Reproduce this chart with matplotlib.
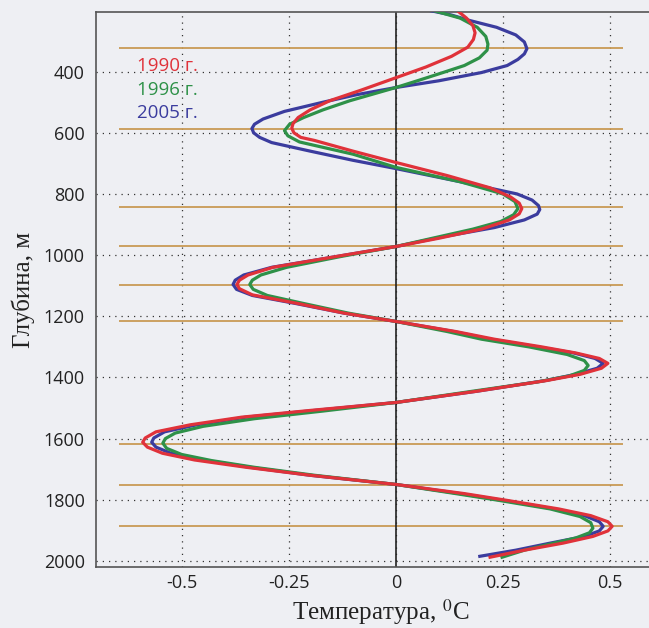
import matplotlib.pyplot as plt

# глубины и температурные аномалии
depth_1990 = [200, 225, 250, 273, 295, 320, 350, 385, 420, 460, 495, 525, 550, 570, 585, 600,
              615, 625, 660, 697, 740, 780, 810, 830, 848, 865, 885, 915, 945, 972, 1000, 1040,
              1065, 1082, 1096, 1110, 1130, 1158, 1190, 1217, 1250, 1275, 1300, 1320, 1338,
              1354, 1370, 1390, 1410, 1445, 1482, 1508, 1530, 1555, 1578, 1598, 1612, 1628,
              1648, 1670, 1694, 1720, 1750, 1780, 1802, 1830, 1852, 1872, 1887, 1902, 1920,
              1942, 1965, 1988]
temp_1990 = [0.143, 0.165, 0.18, 0.185, 0.181, 0.168, 0.13, 0.07, 0.0, -0.08, -0.154, -0.2,
             -0.228, -0.24, -0.243, -0.238, -0.222, -0.19, -0.1, 0.0, 0.12, 0.22, 0.268, 0.288,
             0.294, 0.288, 0.265, 0.2, 0.1, 0.0, -0.12, -0.287, -0.345, -0.365, -0.371, -0.365,
             -0.335, -0.23, -0.12, 0.0, 0.14, 0.23, 0.34, 0.42, 0.475, 0.495, 0.48, 0.43, 0.353,
             0.19, 0.0, -0.2, -0.36, -0.48, -0.56, -0.585, -0.591, -0.58, -0.545, -0.47, -0.349,
             -0.2, 0.0, 0.16, 0.259, 0.38, 0.455, 0.495, 0.505, 0.495, 0.46, 0.39, 0.3, 0.22]

depth_1996 = [200, 225, 255, 285, 310, 330, 355, 380, 403, 430, 452, 495, 525, 550, 572, 593,
              610, 630, 670, 713, 760, 800, 825, 848, 868, 890, 915, 945, 972, 1005, 1040, 1065,
              1082, 1096, 1112, 1132, 1158, 1190, 1217, 1250, 1275, 1300, 1325, 1345, 1361,
              1377, 1395, 1415, 1445, 1482, 1510, 1535, 1560, 1582, 1600, 1615, 1632, 1652,
              1672, 1694, 1720, 1750, 1780, 1802, 1830, 1855, 1875, 1893, 1908, 1925, 1945,
              1965, 1988]
temp_1996 = [0.087, 0.15, 0.19, 0.21, 0.215, 0.213, 0.195, 0.16, 0.11, 0.05, 0.0, -0.107,
             -0.17, -0.215, -0.248, -0.26, -0.252, -0.225, -0.1, 0.0, 0.15, 0.25, 0.278, 0.285,
             0.275, 0.245, 0.18, 0.085, 0.0, -0.13, -0.255, -0.315, -0.335, -0.341, -0.333,
             -0.3, -0.216, -0.11, 0.0, 0.12, 0.2, 0.31, 0.4, 0.44, 0.449, 0.44, 0.405, 0.33,
             0.18, 0.0, -0.17, -0.33, -0.45, -0.515, -0.538, -0.544, -0.535, -0.5, -0.43, -0.33,
             -0.19, 0.0, 0.14, 0.24, 0.36, 0.43, 0.455, 0.46, 0.452, 0.42, 0.36, 0.3, 0.248]

depth_2005 = [200, 215, 233, 255, 280, 303, 325, 342, 360, 380, 403, 430, 452, 475, 500, 530,
              555, 572, 586, 600, 615, 632, 660, 690, 717, 760, 800, 820, 838, 851, 866, 885,
              910, 940, 972, 1005, 1040, 1065, 1082, 1096, 1112, 1132, 1158, 1190, 1217, 1250,
              1275, 1300, 1320, 1338, 1354, 1370, 1390, 1410, 1445, 1482, 1508, 1530, 1555,
              1578, 1598, 1612, 1628, 1648, 1670, 1694, 1720, 1750, 1780, 1802, 1830, 1852,
              1872, 1887, 1902, 1920, 1942, 1965, 1985]
temp_2005 = [0.079, 0.13, 0.173, 0.235, 0.28, 0.3, 0.306, 0.3, 0.285, 0.26, 0.2, 0.1, 0.0,
             -0.09, -0.17, -0.26, -0.31, -0.33, -0.336, -0.332, -0.318, -0.29, -0.2, -0.1, 0.0,
             0.15, 0.283, 0.318, 0.333, 0.336, 0.33, 0.3, 0.23, 0.11, 0.0, -0.14, -0.29,
             -0.355, -0.375, -0.38, -0.372, -0.335, -0.235, -0.12, 0.0, 0.135, 0.22, 0.33,
             0.415, 0.465, 0.484, 0.47, 0.42, 0.35, 0.19, 0.0, -0.19, -0.35, -0.465, -0.54,
             -0.565, -0.57, -0.56, -0.525, -0.45, -0.34, -0.2, 0.0, 0.15, 0.25, 0.37, 0.44,
             0.475, 0.484, 0.475, 0.44, 0.36, 0.28, 0.196]

# горизонтальные линии (экстремумы и нули)
hlines = [322, 586, 844, 969, 1099, 1217, 1619, 1753, 1887]

labels = ['1990 г.', '1996 г.', '2005 г.']
colors = ['#e0323a', '#2e9148', '#3b3c9e']

xticks = [-0.5, -0.25, 0, 0.25, 0.5]
xticklabels = ['-0.5', '-0.25', '0', '0.25', '0.5']
yticks = [400, 600, 800, 1000, 1200, 1400, 1600, 1800, 2000]

bg = '#eeeff3'
plt.rcParams['mathtext.fontset'] = 'stix'

fig = plt.figure(figsize=(6.49, 6.28), dpi=100, facecolor=bg)
ax = fig.add_axes([96/649, 61/628, (649-96)/649, (567-12)/628], facecolor=bg)

ax.set_xlim(-0.7, 0.591)
ax.set_ylim(2020, 205)

ax.set_xticks(xticks)
ax.set_xticklabels(xticklabels)
ax.set_yticks(yticks)
ax.tick_params(length=0, labelsize=13)
ax.tick_params(axis='x', pad=5)
ax.tick_params(axis='y', pad=8)
for lab in ax.get_xticklabels() + ax.get_yticklabels():
    lab.set_fontfamily('Open Sans')
    lab.set_color('#222222')

ax.grid(True, color='#333333', linestyle=(0, (1, 4)), linewidth=0.9)
ax.set_axisbelow(True)

for sp in ['left', 'bottom', 'top']:
    ax.spines[sp].set_color('#555555')
    ax.spines[sp].set_linewidth(1.2)
ax.spines['right'].set_visible(False)

ax.hlines(hlines, -0.646, 0.53, color='#c99a55', linewidth=1.3, zorder=2)
ax.axvline(0, color='#222222', linewidth=1.2, zorder=2)

series = [(depth_2005, temp_2005, colors[2]),
          (depth_1996, temp_1996, colors[1]),
          (depth_1990, temp_1990, colors[0])]
for d, t, c in series:
    ax.plot(t, d, color=c, linewidth=2.3, zorder=3, solid_joinstyle='round')

label_depths = [380, 459, 534]
for lab, c, yd in zip(labels, colors, label_depths):
    ax.text(-0.604, yd, lab, color=c, fontsize=13.5, family='Open Sans',
            va='center', ha='left', zorder=4)

ax.set_ylabel('Глубина, м', family='Liberation Serif', fontsize=18, color='#222222',
              labelpad=6)
ax.set_xlabel('Температура, $^0$C', family='Liberation Serif', fontsize=18, color='#222222')
ax.xaxis.label.set_va('center')
ax.xaxis.set_label_coords((381-96)/553, (567-612)/555)

fig.savefig('out.png', dpi=100, facecolor=bg)
